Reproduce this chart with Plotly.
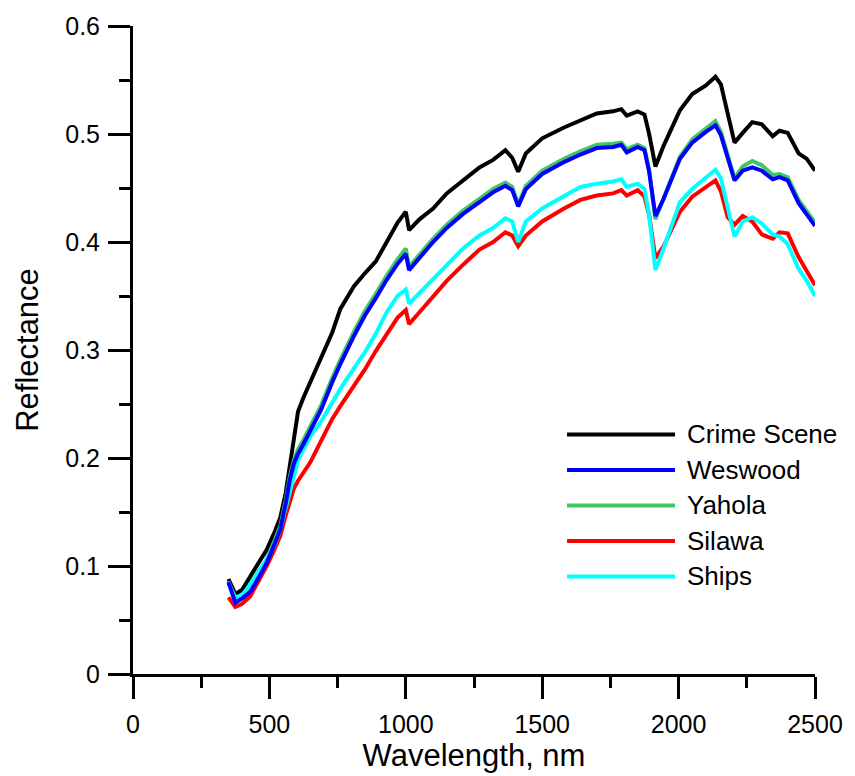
import plotly.graph_objects as go

wavelength = [350, 375, 400, 430, 460, 490, 520, 540, 560, 575, 590,
              605, 625, 650, 690, 730, 760, 810, 850, 890, 930, 970,
              1000, 1012, 1050, 1100, 1150, 1210, 1270, 1320, 1365, 1390,
              1412, 1440, 1500, 1580, 1640, 1700, 1760, 1790, 1810, 1850,
              1875, 1892, 1915, 1945, 2005, 2050, 2100, 2135, 2155, 2180,
              2205, 2235, 2270, 2305, 2345, 2370, 2400, 2440, 2470, 2500]

crime_scene = [.088, .074, .078, .090, .103, .115, .132, .145, .168, .195, .222,
               .243, .256, .270, .292, .316, .338, .359, .371, .382, .400, .418,
               .428, .411, .421, .431, .445, .457, .469, .476, .485, .478,
               .465, .482, .496, .506, .513, .519, .521, .523, .517, .521,
               .518, .500, .470, .489, .522, .537, .545, .553, .546, .518,
               .492, .501, .511, .509, .498, .503, .501, .482, .477, .466]

weswood = [.085, .066, .070, .076, .089, .103, .121, .134, .158, .180, .195,
           .204, .213, .226, .245, .270, .287, .313, .332, .348, .365, .380,
           .389, .374, .385, .400, .413, .426, .437, .446, .452, .448,
           .433, .449, .463, .474, .481, .487, .488, .490, .483, .488,
           .485, .465, .424, .440, .477, .492, .502, .508, .499, .478,
           .457, .466, .469, .466, .458, .460, .457, .436, .425, .415]

yahola = [.086, .068, .072, .078, .091, .106, .124, .137, .161, .183, .198,
          .208, .217, .230, .249, .274, .291, .317, .336, .352, .369, .384,
          .394, .377, .388, .403, .416, .429, .440, .449, .455, .451,
          .435, .452, .466, .477, .484, .490, .491, .492, .486, .490,
          .487, .467, .421, .441, .479, .495, .505, .512, .502, .481,
          .459, .470, .475, .471, .462, .463, .460, .439, .428, .418]

silawa = [.071, .062, .065, .072, .086, .100, .116, .128, .147, .160, .172,
          .179, .186, .196, .216, .236, .248, .266, .282, .299, .315, .330,
          .337, .324, .335, .349, .364, .379, .393, .400, .409, .406,
          .396, .406, .419, .431, .439, .443, .445, .448, .443, .448,
          .442, .425, .385, .396, .428, .442, .451, .457, .447, .423,
          .416, .424, .419, .407, .403, .409, .408, .386, .373, .360]

ships = [.084, .071, .073, .083, .095, .106, .120, .134, .154, .170, .186,
         .198, .208, .220, .234, .251, .264, .283, .298, .315, .335, .350,
         .356, .343, .353, .366, .379, .394, .406, .413, .422, .419,
         .400, .419, .431, .443, .451, .454, .456, .458, .451, .454,
         .449, .425, .374, .394, .437, .449, .459, .467, .459, .430,
         .405, .419, .423, .417, .407, .405, .398, .375, .364, .350]

names = ["Crime Scene", "Weswood", "Yahola", "Silawa", "Ships"]
colors = ["#000000", "#0000FF", "#3CC864", "#FF0000", "#00FFFF"]
series = [crime_scene, weswood, yahola, silawa, ships]
draw_order = [0, 2, 3, 4, 1]

FONT = "Liberation Sans, Arial, sans-serif"

fig = go.Figure()
for i in draw_order:
    fig.add_trace(go.Scatter(
        x=wavelength, y=series[i], mode="lines", name=names[i],
        line=dict(color=colors[i], width=4), showlegend=False))

# manual legend (long line samples like the reference)
leg_y0 = 0.3697
leg_dy = 0.0548
for k, (nm, col) in enumerate(zip(names, colors)):
    yy = leg_y0 - k * leg_dy
    fig.add_shape(type="line", xref="paper", yref="paper",
                  x0=0.6364, x1=0.7947, y0=yy, y1=yy,
                  line=dict(color=col, width=4))
    fig.add_annotation(xref="paper", yref="paper", x=0.8090, y=yy,
                       xanchor="left", yanchor="middle", text=nm,
                       showarrow=False, font=dict(family=FONT, size=26, color="black"))

axis_common = dict(
    showline=True, linewidth=3, linecolor="black",
    ticks="outside", ticklen=22, tickwidth=3, tickcolor="black",
    showgrid=False, zeroline=False,
    tickfont=dict(family=FONT, size=25, color="black"),
)

fig.update_xaxes(range=[0, 2500], dtick=500, tick0=0, ticklabelstandoff=4,
                 minor=dict(dtick=250, ticks="outside", ticklen=11, tickwidth=3, tickcolor="black"),
                 title=dict(text="Wavelength, nm", font=dict(family=FONT, size=31, color="black"), standoff=4),
                 **axis_common)
fig.update_yaxes(range=[0, 0.6], dtick=0.1, tick0=0, ticklabelstandoff=3,
                 minor=dict(dtick=0.05, ticks="outside", ticklen=11, tickwidth=3, tickcolor="black"),
                 title=dict(text="Reflectance", font=dict(family=FONT, size=31, color="black"), standoff=18),
                 **axis_common)

fig.update_layout(
    width=855, height=776,
    margin=dict(l=133, r=40, t=23, b=102),
    plot_bgcolor="white", paper_bgcolor="white",
    font=dict(family=FONT, color="black"),
)

fig.write_html("out.html")
